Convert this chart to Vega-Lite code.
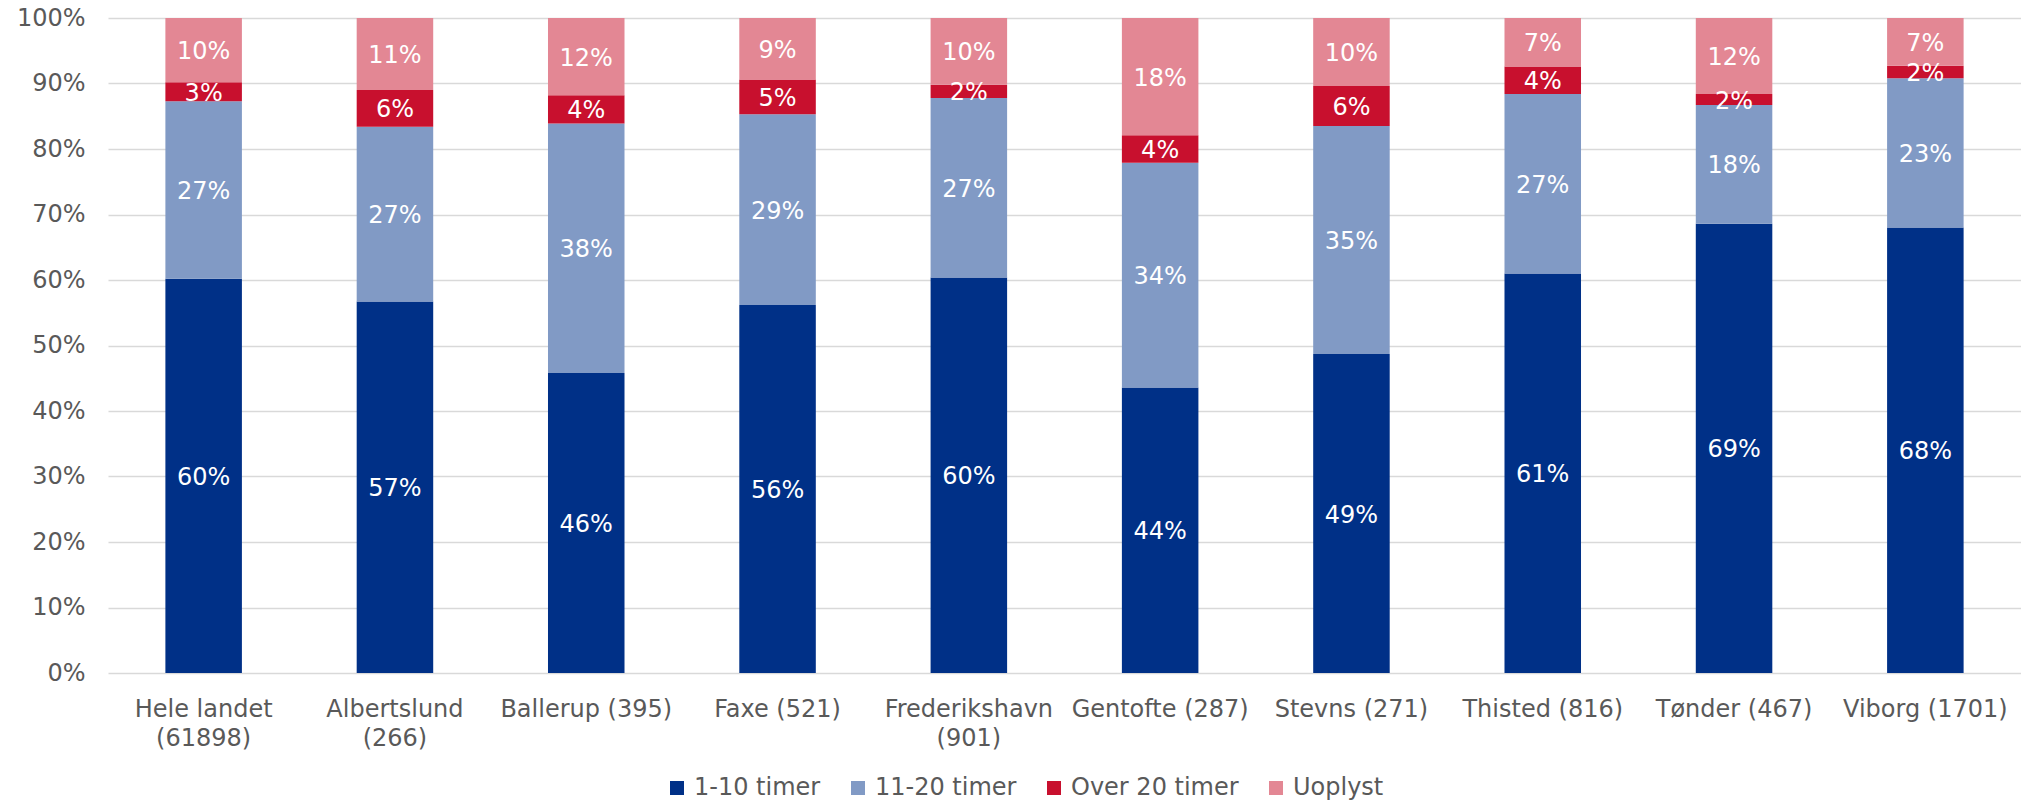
{
  "$schema": "https://vega.github.io/schema/vega-lite/v6.json",
  "width": 1913,
  "height": 655,
  "autosize": {"type": "none"},
  "padding": {"left": 108, "top": 18, "right": 0, "bottom": 128},
  "background": "white",
  "config": {
    "view": {"stroke": null},
    "font": "DejaVu Sans",
    "text": {"font": "DejaVu Sans"}
  },
  "data": {
    "values": [
      {"kommune": "Hele landet (61898)", "kategori": "1-10 timer", "andel": 0.602},
      {"kommune": "Hele landet (61898)", "kategori": "11-20 timer", "andel": 0.271},
      {"kommune": "Hele landet (61898)", "kategori": "Over 20 timer", "andel": 0.029},
      {"kommune": "Hele landet (61898)", "kategori": "Uoplyst", "andel": 0.098},
      {"kommune": "Albertslund (266)", "kategori": "1-10 timer", "andel": 0.567},
      {"kommune": "Albertslund (266)", "kategori": "11-20 timer", "andel": 0.267},
      {"kommune": "Albertslund (266)", "kategori": "Over 20 timer", "andel": 0.056},
      {"kommune": "Albertslund (266)", "kategori": "Uoplyst", "andel": 0.110},
      {"kommune": "Ballerup (395)", "kategori": "1-10 timer", "andel": 0.458},
      {"kommune": "Ballerup (395)", "kategori": "11-20 timer", "andel": 0.381},
      {"kommune": "Ballerup (395)", "kategori": "Over 20 timer", "andel": 0.043},
      {"kommune": "Ballerup (395)", "kategori": "Uoplyst", "andel": 0.118},
      {"kommune": "Faxe (521)", "kategori": "1-10 timer", "andel": 0.562},
      {"kommune": "Faxe (521)", "kategori": "11-20 timer", "andel": 0.291},
      {"kommune": "Faxe (521)", "kategori": "Over 20 timer", "andel": 0.053},
      {"kommune": "Faxe (521)", "kategori": "Uoplyst", "andel": 0.094},
      {"kommune": "Frederikshavn (901)", "kategori": "1-10 timer", "andel": 0.604},
      {"kommune": "Frederikshavn (901)", "kategori": "11-20 timer", "andel": 0.274},
      {"kommune": "Frederikshavn (901)", "kategori": "Over 20 timer", "andel": 0.020},
      {"kommune": "Frederikshavn (901)", "kategori": "Uoplyst", "andel": 0.102},
      {"kommune": "Gentofte (287)", "kategori": "1-10 timer", "andel": 0.436},
      {"kommune": "Gentofte (287)", "kategori": "11-20 timer", "andel": 0.343},
      {"kommune": "Gentofte (287)", "kategori": "Over 20 timer", "andel": 0.042},
      {"kommune": "Gentofte (287)", "kategori": "Uoplyst", "andel": 0.179},
      {"kommune": "Stevns (271)", "kategori": "1-10 timer", "andel": 0.487},
      {"kommune": "Stevns (271)", "kategori": "11-20 timer", "andel": 0.348},
      {"kommune": "Stevns (271)", "kategori": "Over 20 timer", "andel": 0.061},
      {"kommune": "Stevns (271)", "kategori": "Uoplyst", "andel": 0.104},
      {"kommune": "Thisted (816)", "kategori": "1-10 timer", "andel": 0.610},
      {"kommune": "Thisted (816)", "kategori": "11-20 timer", "andel": 0.274},
      {"kommune": "Thisted (816)", "kategori": "Over 20 timer", "andel": 0.042},
      {"kommune": "Thisted (816)", "kategori": "Uoplyst", "andel": 0.074},
      {"kommune": "Tønder (467)", "kategori": "1-10 timer", "andel": 0.686},
      {"kommune": "Tønder (467)", "kategori": "11-20 timer", "andel": 0.181},
      {"kommune": "Tønder (467)", "kategori": "Over 20 timer", "andel": 0.017},
      {"kommune": "Tønder (467)", "kategori": "Uoplyst", "andel": 0.116},
      {"kommune": "Viborg (1701)", "kategori": "1-10 timer", "andel": 0.680},
      {"kommune": "Viborg (1701)", "kategori": "11-20 timer", "andel": 0.228},
      {"kommune": "Viborg (1701)", "kategori": "Over 20 timer", "andel": 0.019},
      {"kommune": "Viborg (1701)", "kategori": "Uoplyst", "andel": 0.073}
    ]
  },
  "transform": [
    {"stack": "andel", "groupby": ["kommune"], "sort": [{"field": "kategori", "order": "ascending"}], "as": ["y0", "y1"]},
    {"calculate": "(datum.y0 + datum.y1) / 2", "as": "midt"}
  ],
  "encoding": {
    "x": {
      "field": "kommune",
      "type": "nominal",
      "sort": null,
      "title": null,
      "scale": {"paddingInner": 0, "paddingOuter": 0},
      "axis": {
        "domain": false,
        "ticks": false,
        "grid": false,
        "labelAngle": 0,
        "labelFont": "DejaVu Sans",
        "labelFontSize": 24,
        "labelColor": "#595959",
        "labelPadding": 24,
        "labelLineHeight": 29,
        "labelOverlap": false,
        "labelLimit": 400,
        "labelExpr": "indexof(['Hele landet (61898)','Albertslund (266)','Frederikshavn (901)'], datum.value) >= 0 ? [slice(datum.value, 0, indexof(datum.value, ' (')), slice(datum.value, indexof(datum.value, ' (') + 1)] : datum.value"
      }
    }
  },
  "layer": [
    {
      "mark": {"type": "bar", "width": {"band": 0.4}},
      "encoding": {
        "y": {
          "field": "y0",
          "type": "quantitative",
          "title": null,
          "scale": {"domain": [0, 1], "nice": false},
          "axis": {
            "values": [0, 0.1, 0.2, 0.3, 0.4, 0.5, 0.6, 0.7, 0.8, 0.9, 1],
            "format": ".0%",
            "domain": false,
            "ticks": false,
            "grid": true,
            "gridColor": "#D9D9D9",
            "gridWidth": 1.6,
            "labelFont": "DejaVu Sans",
            "labelFontSize": 24,
            "labelColor": "#595959",
            "labelPadding": 23
          }
        },
        "y2": {"field": "y1"},
        "color": {
          "field": "kategori",
          "type": "nominal",
          "scale": {
            "domain": ["1-10 timer", "11-20 timer", "Over 20 timer", "Uoplyst"],
            "range": ["#003087", "#819AC5", "#C8102E", "#E38794"]
          },
          "legend": {
            "title": null,
            "orient": "none",
            "direction": "horizontal",
            "legendX": 557,
            "legendY": 758,
            "padding": 0,
            "symbolType": "square",
            "symbolSize": 196,
            "symbolStrokeWidth": 0,
            "symbolOpacity": 1,
            "labelFont": "DejaVu Sans",
            "labelFontSize": 24,
            "labelColor": "#595959",
            "labelOffset": 5,
            "columnPadding": 25,
            "labelLimit": 400
          }
        }
      }
    },
    {
      "mark": {"type": "text", "color": "white", "font": "DejaVu Sans", "fontSize": 24, "baseline": "middle", "align": "center", "dy": 2},
      "encoding": {
        "y": {"field": "midt", "type": "quantitative"},
        "text": {"field": "andel", "type": "quantitative", "format": ".0%"}
      }
    }
  ]
}
